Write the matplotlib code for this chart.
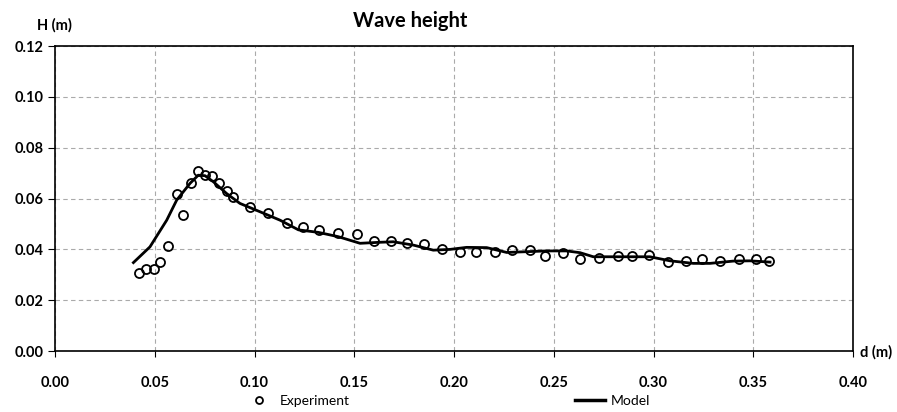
import matplotlib
matplotlib.use("Agg")
import matplotlib.pyplot as plt
from matplotlib.lines import Line2D

plt.rcParams.update({
    "font.family": ["Lato", "DejaVu Sans"],
    "font.weight": "bold",
    "font.size": 10,
})

# experiment points: distance d (m), wave height H (m)
exp_d = [0.0421, 0.0458, 0.0498, 0.0528, 0.0565, 0.0610, 0.0643, 0.0680,
         0.0717, 0.0754, 0.0787, 0.0824, 0.0861, 0.0894, 0.0979, 0.1066,
         0.1163, 0.1241, 0.1322, 0.1420, 0.1512, 0.1600, 0.1686, 0.1763,
         0.1848, 0.1940, 0.2032, 0.2110, 0.2204, 0.2291, 0.2381, 0.2458,
         0.2545, 0.2632, 0.2728, 0.2824, 0.2892, 0.2979, 0.3071, 0.3163,
         0.3243, 0.3335, 0.3427, 0.3514, 0.3578]
exp_H = [0.0306, 0.0323, 0.0323, 0.0351, 0.0413, 0.0617, 0.0535, 0.0662,
         0.0708, 0.0692, 0.0687, 0.0660, 0.0630, 0.0607, 0.0565, 0.0544,
         0.0502, 0.0489, 0.0475, 0.0463, 0.0459, 0.0434, 0.0435, 0.0425,
         0.0421, 0.0401, 0.0390, 0.0391, 0.0391, 0.0396, 0.0396, 0.0375,
         0.0386, 0.0363, 0.0368, 0.0375, 0.0375, 0.0376, 0.0351, 0.0354,
         0.0363, 0.0354, 0.0364, 0.0364, 0.0354]

# model curve
mod_d = [0.0393, 0.0476, 0.0560, 0.0610, 0.0677, 0.0718, 0.0752, 0.0794,
         0.0860, 0.0927, 0.1028, 0.1128, 0.1220, 0.1320, 0.1420, 0.1529,
         0.1629, 0.1696, 0.1796, 0.1896, 0.1980, 0.2063, 0.2164, 0.2264,
         0.2364, 0.2465, 0.2565, 0.2632, 0.2698, 0.2865, 0.2982, 0.3083,
         0.3199, 0.3283, 0.3400, 0.3484, 0.3584]
mod_H = [0.0348, 0.0410, 0.0515, 0.0594, 0.0660, 0.0692, 0.0690, 0.0666,
         0.0620, 0.0581, 0.0548, 0.0515, 0.0477, 0.0467, 0.0450, 0.0424,
         0.0428, 0.0430, 0.0417, 0.0397, 0.0400, 0.0408, 0.0407, 0.0388,
         0.0391, 0.0394, 0.0394, 0.0387, 0.0371, 0.0371, 0.0371, 0.0355,
         0.0345, 0.0345, 0.0354, 0.0355, 0.0350]

x_ticks = [0.00, 0.05, 0.10, 0.15, 0.20, 0.25, 0.30, 0.35, 0.40]
y_ticks = [0.00, 0.02, 0.04, 0.06, 0.08, 0.10, 0.12]

fig = plt.figure(figsize=(8.97, 4.12), dpi=100)
ax = fig.add_axes([0.0613, 0.148, 0.8897, 0.740])

ax.plot(mod_d, mod_H, color="black", lw=2.0, zorder=3)
ax.plot(exp_d, exp_H, "o", ms=6.5, mfc="none", mec="black", mew=1.3,
        zorder=4)

ax.set_xlim(0, 0.40)
ax.set_ylim(0, 0.12)
ax.set_xticks(x_ticks)
ax.set_yticks(y_ticks)
ax.set_xticklabels([f"{v:.2f}" for v in x_ticks], fontsize=10.5,
                   fontweight="bold")
ax.set_yticklabels([f"{v:.2f}" for v in y_ticks], fontsize=10.5,
                   fontweight="bold")
ax.tick_params(axis="x", length=4, width=0.8, pad=14)
ax.tick_params(axis="y", length=5, width=0.8, pad=3)
ax.grid(True, color="#aaaaaa", ls=(0, (4, 3)), lw=0.8)
for sp in ax.spines.values():
    sp.set_linewidth(1.2)
    sp.set_color("black")

fig.text(0.457, 0.950, "Wave height", ha="center", va="center",
         fontsize=14.5, fontweight="bold")
fig.text(0.061, 0.939, "H (m)", ha="center", va="center", fontsize=10.5,
         fontweight="bold")
fig.text(0.977, 0.146, "d (m)", ha="center", va="center", fontsize=10.5,
         fontweight="bold")

handles = [
    Line2D([], [], ls="none", marker="o", ms=5, mfc="none", mec="black",
           mew=1.3),
    Line2D([], [], color="black", lw=2.5),
]
leg = fig.legend(handles, ["Experiment", "Model"], loc="center",
                 bbox_to_anchor=(0.498, 0.027), ncol=2, frameon=False,
                 columnspacing=16.2, handlelength=2.2, handletextpad=0.4,
                 prop={"size": 10, "weight": "normal"})

fig.savefig("out.png", dpi=100)
